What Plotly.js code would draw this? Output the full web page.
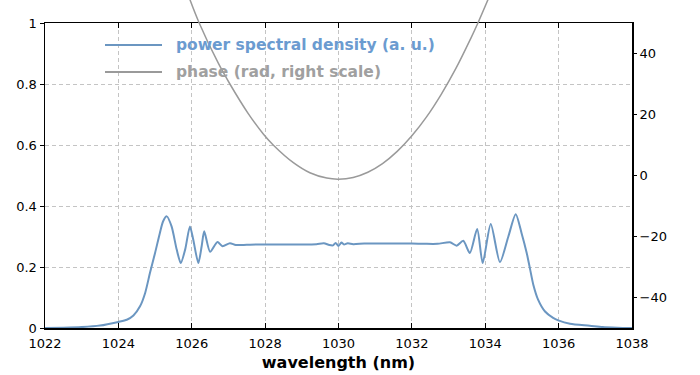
<!DOCTYPE html>
<html><head><meta charset="utf-8">
<script src="https://cdn.plot.ly/plotly-3.0.1.min.js"></script>
<style>html,body{margin:0;padding:0;background:#fff}</style>
</head><body><div id="chart" style="width:700px;height:375px"></div>
<script>
const psdWavelength = [1022.0,1022.5,1023.0,1023.5,1024.0,1024.23,1024.41,1024.59,1024.73,1024.86,1025.0,1025.13,1025.22,1025.32,1025.45,1025.59,1025.70,1025.82,1025.95,1026.04,1026.18,1026.27,1026.34,1026.50,1026.70,1026.84,1027.04,1027.2,1027.5,1027.8,1028.2,1028.6,1029.0,1029.4,1029.6,1029.75,1029.85,1029.92,1030.0,1030.08,1030.15,1030.25,1030.4,1030.7,1031.1,1031.6,1032.0,1032.35,1032.7,1033.04,1033.22,1033.40,1033.58,1033.78,1033.93,1034.15,1034.40,1034.63,1034.83,1034.99,1035.13,1035.22,1035.31,1035.44,1035.63,1035.85,1035.99,1036.31,1036.85,1037.2,1037.6,1038.0];
const psdValues = [0.0,0.001,0.003,0.008,0.020,0.027,0.041,0.071,0.115,0.180,0.246,0.311,0.350,0.366,0.333,0.257,0.213,0.257,0.333,0.290,0.213,0.268,0.317,0.250,0.282,0.268,0.278,0.272,0.273,0.274,0.274,0.274,0.274,0.275,0.278,0.272,0.271,0.279,0.269,0.280,0.274,0.278,0.275,0.277,0.277,0.277,0.277,0.276,0.276,0.281,0.270,0.286,0.246,0.325,0.213,0.341,0.216,0.300,0.373,0.311,0.246,0.194,0.142,0.093,0.054,0.033,0.025,0.014,0.0075,0.003,0.001,0.0];
const phaseWavelength = [1025.9,1026.2,1026.72,1027.04,1027.54,1027.95,1028.22,1028.77,1029.22,1029.68,1030.0,1030.4,1030.8,1031.2,1031.6,1032.0,1032.4,1032.8,1033.2,1033.6,1033.8,1034.1];
const phaseValues = [59.3,50.1,36.9,30.0,20.3,13.6,10.0,4.2,0.9,-0.85,-1.2,-0.63,1.07,3.9,7.9,13.0,19.2,26.6,35.1,44.8,50.0,58.4];
const xTicks = [1022,1024,1026,1028,1030,1032,1034,1036,1038];
const leftTicks = [0,0.2,0.4,0.6,0.8,1];
const leftTickText = ['0','0.2','0.4','0.6','0.8','1'];
const rightTicks = [-40,-20,0,20,40];
const seriesNames = ['power spectral density (a. u.)','phase (rad, right scale)'];

const blue = '#6b96c1', gray = '#9a9a9a';
const font = 'DejaVu Sans, Verdana, sans-serif';
const W = 700, H = 375, L = 45, R = 68, B = 47;
const plotW = W - L - R, plotH = H - B;
const toPx = px => (px - L) / plotW;
const toPy = py => (plotH - py) / plotH;

const traces = [
  {x: psdWavelength, y: psdValues, type: 'scatter', mode: 'lines', name: seriesNames[0],
   line: {color: blue, width: 2, shape: 'spline', smoothing: 0.7}, xaxis: 'x', yaxis: 'y', hoverinfo: 'skip'},
  {x: phaseWavelength, y: phaseValues, type: 'scatter', mode: 'lines', name: seriesNames[1],
   line: {color: gray, width: 1.5, shape: 'spline', smoothing: 1}, xaxis: 'x2', yaxis: 'y2', hoverinfo: 'skip'}
];

const grid = {showgrid: true, gridcolor: '#c4c4c4', gridwidth: 1, griddash: '4px,3px'};
const layout = {
  width: W, height: H, margin: {l: L, r: R, t: 0, b: B},
  paper_bgcolor: '#fff', plot_bgcolor: 'rgba(0,0,0,0)',
  showlegend: false,
  font: {family: font, size: 13, color: '#000'},
  xaxis: Object.assign({range: [1022, 1038], tickvals: xTicks, ticks: 'inside', ticklen: 5, tickcolor: '#000',
    showline: true, linecolor: '#000', linewidth: 1.5, mirror: 'ticks', zeroline: false,
    tickfont: {family: font, size: 13}, ticklabelstandoff: 3, anchor: 'y',
    title: {text: '<b>wavelength (nm)</b>', font: {family: font, size: 16}, standoff: 6}}, grid),
  yaxis: Object.assign({domain: [0, 305 / plotH], range: [0, 1], tickvals: leftTicks, ticktext: leftTickText,
    ticks: 'outside', ticklen: 4, tickcolor: '#000', showline: true, linecolor: '#000', linewidth: 1.5,
    mirror: true, zeroline: false, tickfont: {family: font, size: 13}}, grid),
  xaxis2: {overlaying: 'x', range: [1022, 1038], visible: false, anchor: 'y2'},
  yaxis2: {domain: [0, 1], range: [-50, -50 + plotH / 3.05], anchor: 'x2', side: 'right',
    tickvals: rightTicks, ticks: 'outside', ticklen: 4, tickcolor: '#000', showline: false,
    showgrid: false, zeroline: false, tickfont: {family: font, size: 13}},
  shapes: [
    {type: 'line', xref: 'paper', yref: 'paper', x0: toPx(105), x1: toPx(162), y0: toPy(45), y1: toPy(45), line: {color: blue, width: 2}},
    {type: 'line', xref: 'paper', yref: 'paper', x0: toPx(105), x1: toPx(162), y0: toPy(72), y1: toPy(72), line: {color: gray, width: 2}}
  ],
  annotations: [
    {xref: 'paper', yref: 'paper', x: toPx(174), y: toPy(45), xanchor: 'left', yanchor: 'middle', showarrow: false,
     text: '<b>' + seriesNames[0] + '</b>', font: {family: font, size: 15.5, color: '#6b9bd0'}},
    {xref: 'paper', yref: 'paper', x: toPx(174), y: toPy(72), xanchor: 'left', yanchor: 'middle', showarrow: false,
     text: '<b>' + seriesNames[1] + '</b>', font: {family: font, size: 15.5, color: '#a0a0a0'}}
  ]
};
Plotly.newPlot('chart', traces, layout, {displayModeBar: false, staticPlot: true});
</script></body></html>
